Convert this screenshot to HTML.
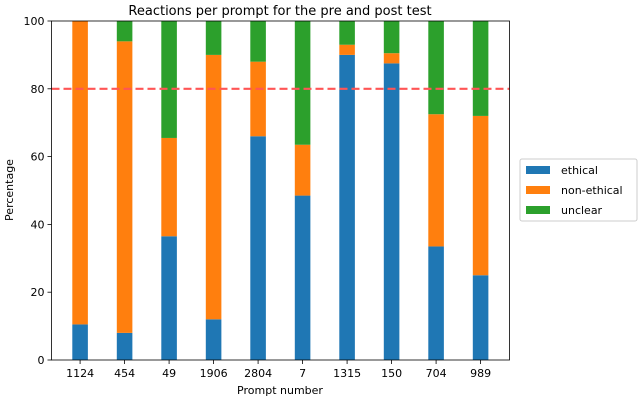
<!DOCTYPE html>
<html><head><meta charset="utf-8"><style>
body{margin:0;background:#fff;}
text{font-family:"DejaVu Sans","Liberation Sans",sans-serif;}
</style></head><body>
<svg id="chart" width="640" height="400" xmlns="http://www.w3.org/2000/svg">
<text x="280" y="15" font-size="13" text-anchor="middle">Reactions per prompt for the pre and post test</text>
<g id="plot"></g>
<text x="280" y="394" font-size="11" text-anchor="middle">Prompt number</text>
<text transform="translate(13,190) rotate(-90)" font-size="11" text-anchor="middle">Percentage</text>
<g>
<rect x="520" y="159" width="117" height="62" rx="2" fill="#fff" stroke="#ccc"/>
<rect x="526" y="166" width="24" height="8" fill="#1f77b4"/>
<text x="561" y="174" font-size="11">ethical</text>
<rect x="526" y="186" width="24" height="8" fill="#ff7f0e"/>
<text x="561" y="194" font-size="11">non-ethical</text>
<rect x="526" y="206" width="24" height="8" fill="#2ca02c"/>
<text x="561" y="214" font-size="11">unclear</text>
</g>
</svg>
<script>
const categories=["1124","454","49","1906","2804","7","1315","150","704","989"];
const ethical=[10.5,8,36.5,12,66,48.5,90,87.5,33.5,25];
const nonEthical=[89.5,86,29,78,22,15,3,3,39,47];
const unclear=[0,6,34.5,10,12,36.5,7,9.5,27.5,28];
const yTicks=[0,20,40,60,80,100];
const threshold=80;
const NS="http://www.w3.org/2000/svg";
const L=51.5,R=509.5,T=21,B=360;
const step=44.5, x0=L+0.6425*step, bw=0.35*step;
const xs=i=>x0+i*step;
const ys=v=>B-(v/100)*(B-T);
const g=document.getElementById('plot');
function mk(tag,attrs){const e=document.createElementNS(NS,tag);for(const k in attrs)e.setAttribute(k,attrs[k]);g.appendChild(e);return e;}
const series=[[ethical,'#1f77b4','ethical'],[nonEthical,'#ff7f0e','non-ethical'],[unclear,'#2ca02c','unclear']];
categories.forEach((c,i)=>{
  let base=0;
  series.forEach(([arr,col,nm])=>{
    const v=arr[i];
    const r=mk('rect',{x:xs(i)-bw/2,y:ys(base+v),width:bw,height:ys(base)-ys(base+v),fill:col});
    
    
    base+=v;
  });
  const t=mk('line',{x1:xs(i),x2:xs(i),y1:B,y2:B+4,stroke:'#000','stroke-width':0.8});
  
  
  const tx=mk('text',{x:xs(i),y:B+17,'font-size':11,'text-anchor':'middle'});
  tx.textContent=c;
  
  
});
yTicks.forEach(v=>{
  const t=mk('line',{x1:L-4,x2:L,y1:ys(v),y2:ys(v),stroke:'#000','stroke-width':0.8});
  
  
  const tx=mk('text',{x:L-7,y:ys(v)+4,'font-size':11,'text-anchor':'end'});
  tx.textContent=v;
  
  
});
const th=mk('line',{x1:L,x2:R,y1:ys(threshold),y2:ys(threshold),stroke:'#ff5555','stroke-width':2.2,'stroke-dasharray':'8,4'});


const fr=mk('rect',{x:L,y:T,width:R-L,height:B-T,fill:'none',stroke:'#000','stroke-width':0.8});


</script>
</body></html>
